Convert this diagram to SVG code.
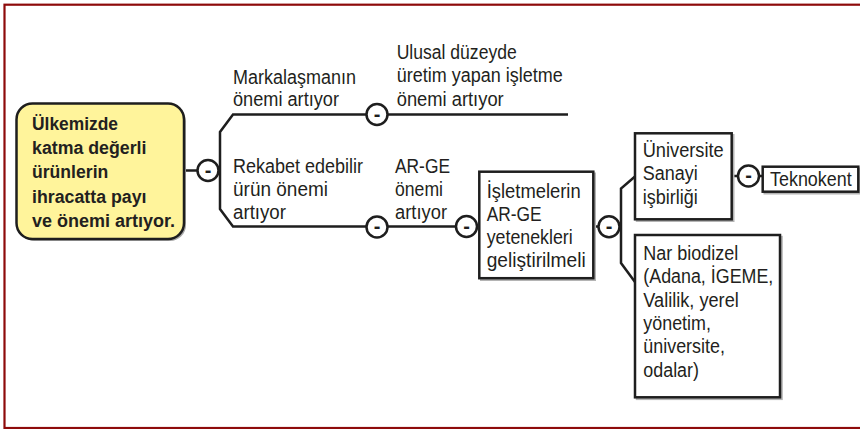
<svg xmlns="http://www.w3.org/2000/svg" width="860" height="429" viewBox="0 0 860 429">
<style>
.t{font-family:"Liberation Sans",Arial,sans-serif;font-size:20px;fill:#231f20}
.b{font-weight:bold;font-size:18px}
.box{fill:#fff;stroke:#1e1e1e;stroke-width:2.5}
.sh{fill:none;stroke:#b4b4b4;stroke-width:2}
.ln{fill:none;stroke:#1e1e1e;stroke-width:2.5;stroke-linejoin:miter}
.c{fill:#fff;stroke:#1e1e1e;stroke-width:2.5}
.m{font-family:"Liberation Sans",Arial,sans-serif;font-size:20px;font-weight:bold;fill:#1e1e1e;text-anchor:middle}
</style>
<rect x="0" y="0" width="860" height="429" fill="#fff"/>
<rect x="4.5" y="4.7" width="880" height="423.3" fill="none" stroke="#8e0b0b" stroke-width="2.2"/>

<g id="connectors">
  <path class="ln" d="M184 170.5 H198"/>
  <path class="ln" d="M568 114.5 H233 L220 132 V209 L233 226.5 H456"/>
  <path class="ln" d="M593 226.5 H599"/>
  <path class="ln" d="M635 176.5 L621 188.5 V263 L635 282"/>
  <path class="ln" d="M731.5 176 H763"/>
  <g id="c1"><circle class="c" cx="208" cy="170.5" r="10.5"/><text class="m" x="208" y="176.5">-</text></g>
  <g id="c2"><circle class="c" cx="377" cy="114.5" r="10.5"/><text class="m" x="377" y="120.5">-</text></g>
  <g id="c3"><circle class="c" cx="377" cy="227" r="10.5"/><text class="m" x="377" y="233">-</text></g>
  <g id="c4"><circle class="c" cx="466.5" cy="226.5" r="10.5"/><text class="m" x="466.5" y="232.5">-</text></g>
  <g id="c5"><circle class="c" cx="609" cy="226.7" r="10.5"/><text class="m" x="609" y="232.7">-</text></g>
  <g id="c6"><circle class="c" cx="748.5" cy="176" r="10.5"/><text class="m" x="748.5" y="182">-</text></g>
</g>

<g id="root">
  <rect x="18.5" y="105.5" width="167.5" height="135.5" rx="16" fill="#a8a8a8"/>
  <rect x="16.5" y="103.5" width="167.5" height="135.5" rx="16" fill="#fff49b" stroke="#1e1e1e" stroke-width="2.5"/>
  <text class="t b" x="32" y="130" textLength="86" lengthAdjust="spacingAndGlyphs">Ülkemizde</text>
  <text class="t b" x="32" y="154.2" textLength="114.5" lengthAdjust="spacingAndGlyphs">katma değerli</text>
  <text class="t b" x="32" y="178.4" textLength="76.3" lengthAdjust="spacingAndGlyphs">ürünlerin</text>
  <text class="t b" x="32" y="202.6" textLength="114.5" lengthAdjust="spacingAndGlyphs">ihracatta payı</text>
  <text class="t b" x="32" y="226.8" textLength="143" lengthAdjust="spacingAndGlyphs">ve önemi artıyor.</text>
</g>

<g id="markalasma">
  <text class="t" x="233" y="83.5" textLength="123" lengthAdjust="spacingAndGlyphs">Markalaşmanın</text>
  <text class="t" x="233" y="105.5" textLength="106" lengthAdjust="spacingAndGlyphs">önemi artıyor</text>
</g>

<g id="ulusal">
  <text class="t" x="396.7" y="58.5" textLength="120" lengthAdjust="spacingAndGlyphs">Ulusal düzeyde</text>
  <text class="t" x="396.7" y="82" textLength="166" lengthAdjust="spacingAndGlyphs">üretim yapan işletme</text>
  <text class="t" x="396.7" y="105.5" textLength="107" lengthAdjust="spacingAndGlyphs">önemi artıyor</text>
</g>

<g id="rekabet">
  <text class="t" x="233" y="173" textLength="130" lengthAdjust="spacingAndGlyphs">Rekabet edebilir</text>
  <text class="t" x="233" y="196" textLength="95" lengthAdjust="spacingAndGlyphs">ürün önemi</text>
  <text class="t" x="233" y="219" textLength="53" lengthAdjust="spacingAndGlyphs">artıyor</text>
</g>

<g id="arge">
  <text class="t" x="395" y="173" textLength="55" lengthAdjust="spacingAndGlyphs">AR-GE</text>
  <text class="t" x="395" y="196" textLength="48" lengthAdjust="spacingAndGlyphs">önemi</text>
  <text class="t" x="395" y="219" textLength="52" lengthAdjust="spacingAndGlyphs">artıyor</text>
</g>

<g id="isletmeler">
  <rect class="sh" x="481" y="173.5" width="114" height="106.5"/>
  <rect class="box" x="479.3" y="171.7" width="114" height="106.5"/>
  <text class="t" x="486.7" y="197.5" textLength="94" lengthAdjust="spacingAndGlyphs">İşletmelerin</text>
  <text class="t" x="486.7" y="220.5" textLength="55" lengthAdjust="spacingAndGlyphs">AR-GE</text>
  <text class="t" x="486.7" y="243.5" textLength="86" lengthAdjust="spacingAndGlyphs">yetenekleri</text>
  <text class="t" x="486.7" y="266.5" textLength="99" lengthAdjust="spacingAndGlyphs">geliştirilmeli</text>
</g>

<g id="universite">
  <rect class="sh" x="636.8" y="135" width="96.7" height="86"/>
  <rect class="box" x="635" y="133.3" width="96.7" height="86"/>
  <text class="t" x="642.7" y="157" textLength="81" lengthAdjust="spacingAndGlyphs">Üniversite</text>
  <text class="t" x="642.7" y="180.3" textLength="55" lengthAdjust="spacingAndGlyphs">Sanayi</text>
  <text class="t" x="642.7" y="203.6" textLength="55" lengthAdjust="spacingAndGlyphs">işbirliği</text>
</g>

<g id="teknokent">
  <rect class="sh" x="764.5" y="168.5" width="95.6" height="25"/>
  <rect class="box" x="762.7" y="166.7" width="95.6" height="25"/>
  <text class="t" x="770" y="185.5" textLength="81.7" lengthAdjust="spacingAndGlyphs">Teknokent</text>
</g>

<g id="nar">
  <rect class="sh" x="636.8" y="236.8" width="145" height="162.3"/>
  <rect class="box" x="635" y="235" width="145" height="162.3"/>
  <text class="t" x="643.3" y="260" textLength="95" lengthAdjust="spacingAndGlyphs">Nar biodizel</text>
  <text class="t" x="643.3" y="283.3" textLength="130" lengthAdjust="spacingAndGlyphs">(Adana, İGEME,</text>
  <text class="t" x="643.3" y="306.6" textLength="95.5" lengthAdjust="spacingAndGlyphs">Valilik, yerel</text>
  <text class="t" x="643.3" y="329.9" textLength="67.6" lengthAdjust="spacingAndGlyphs">yönetim,</text>
  <text class="t" x="643.3" y="353.2" textLength="81.6" lengthAdjust="spacingAndGlyphs">üniversite,</text>
  <text class="t" x="643.3" y="376.5" textLength="55.7" lengthAdjust="spacingAndGlyphs">odalar)</text>
</g>
</svg>
